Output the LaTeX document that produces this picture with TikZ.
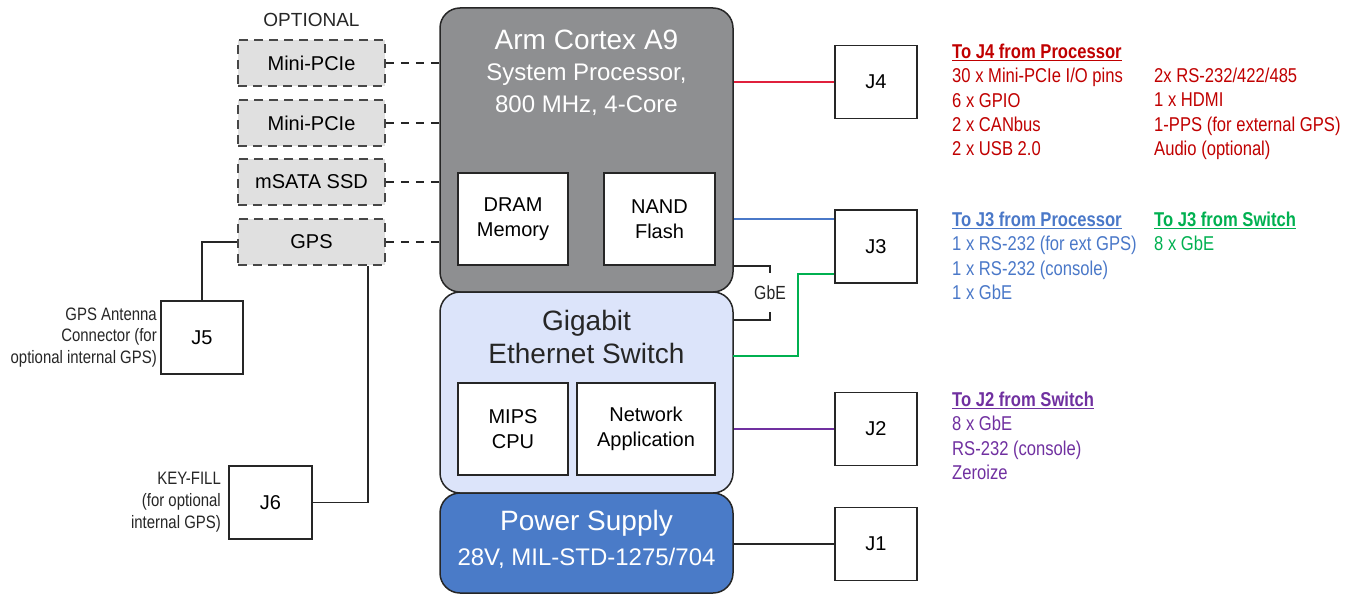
\documentclass[tikz,border=0pt]{standalone}
\usepackage{fontspec}
\setmainfont{Liberation Sans}
\newfontfamily\narrowfont[FakeStretch=0.83]{Liberation Sans}
\usetikzlibrary{calc}
\definecolor{ProcGray}{HTML}{8E8F91}
\definecolor{SwitchBlue}{HTML}{DCE4FA}
\definecolor{PowerBlue}{HTML}{4A7BC8}
\definecolor{OptGray}{HTML}{E0E0E0}
\definecolor{EdgeGray}{HTML}{262626}
\definecolor{J4Red}{HTML}{C00000}
\definecolor{J4Line}{HTML}{E0203C}
\definecolor{J3Blue}{HTML}{4A78C8}
\definecolor{J3Green}{HTML}{00B050}
\definecolor{J2Purple}{HTML}{7030A0}

\tikzset{
    block/.style={draw=EdgeGray, line width=1.5pt, rounded corners=20pt, inner sep=0pt, minimum width=293pt},
    inbox/.style={draw=EdgeGray, fill=white, line width=1.5pt, minimum width=110pt, minimum height=92pt, align=center, font=\fontsize{20}{25}\selectfont},
    optbox/.style={draw=EdgeGray!85, dash pattern=on 9pt off 6pt, fill=OptGray, line width=1.5pt, minimum width=147pt, minimum height=46pt, font=\fontsize{20}{24}\selectfont},
    jbox/.style={draw=EdgeGray, fill=white, line width=1.5pt, minimum width=82pt, minimum height=73pt, font=\fontsize{20}{24}\selectfont},
    note/.style={align=left, inner sep=0pt, anchor=north west, font=\narrowfont\fontsize{20}{24.3}\selectfont},
    sidenote/.style={align=right, inner sep=0pt, anchor=east, text=EdgeGray, font=\narrowfont\fontsize{18}{21.7}\selectfont},
    wire/.style={line width=1.8pt},
}

\begin{document}
\begin{tikzpicture}[x=1pt, y=-1pt]
    \useasboundingbox (0,0) rectangle (1351,594);

    % Main blocks
    \node[block, fill=ProcGray, minimum height=284pt] (proc) at (586.5,150) {};
    \node[block, fill=SwitchBlue, minimum height=201pt] (switch) at (586.5,392.5) {};
    \node[block, fill=PowerBlue, minimum height=100pt] (power) at (586.5,543) {};

    % Block titles
    \node[anchor=base, text=white, font=\fontsize{28}{30}\selectfont] (procA) at (586.5,50) {Arm Cortex A9};
    \node[anchor=base, text=white, font=\fontsize{24}{28}\selectfont] (procB) at (586.5,80.5) {System Processor,};
    \node[anchor=base, text=white, font=\fontsize{24}{28}\selectfont] (procC) at (586.5,112) {800 MHz, 4-Core};
    \node[anchor=base, text=EdgeGray, font=\fontsize{28}{30}\selectfont] (swA) at (586.5,330) {Gigabit};
    \node[anchor=base, text=EdgeGray, font=\fontsize{28}{30}\selectfont] (swB) at (586.5,363) {Ethernet Switch};
    \node[anchor=base, text=white, font=\fontsize{28}{30}\selectfont] (pwrA) at (586.5,530) {Power Supply};
    \node[anchor=base, text=white, font=\fontsize{24}{28}\selectfont] (pwrB) at (586.5,565) {28V, MIL-STD-1275/704};

    % Inner boxes
    \node[inbox] (dram) at (513,219) {DRAM\\Memory};
    \node[inbox, minimum width=111pt] (nand) at (659.5,219) {NAND\\Flash};
    \node[inbox] (mips) at (513,429) {MIPS\\CPU};
    \node[inbox, minimum width=138pt] (netapp) at (646,429) {Network\\Application};

    % Optional modules
    \node[font=\fontsize{19}{22}\selectfont, text=EdgeGray] (optional) at (311.5,20) {OPTIONAL};
    \node[optbox] (pcieA) at (311.5,63) {Mini-PCIe};
    \node[optbox] (pcieB) at (311.5,123) {Mini-PCIe};
    \node[optbox] (msata) at (311.5,182) {mSATA SSD};
    \node[optbox] (gps) at (311.5,242) {GPS};

    % Connectors
    \node[jbox] (J4) at (876,82) {J4};
    \node[jbox] (J3) at (876,246.5) {J3};
    \node[jbox] (J2) at (876,429) {J2};
    \node[jbox] (J1) at (876,544) {J1};
    \node[jbox] (J5) at (202,337.5) {J5};
    \node[jbox, minimum width=83pt] (J6) at (270.5,502.5) {J6};

    \node[sidenote] (j5note) at (157,337.5) {GPS Antenna\\Connector (for\\optional internal GPS)};
    \node[sidenote] (j6note) at (221,502) {KEY-FILL\\(for optional\\internal GPS)};

    % Dashed links to the processor
    \draw[wire, EdgeGray, dash pattern=on 8pt off 7pt] (pcieA.east) -- (proc.west |- pcieA);
    \draw[wire, EdgeGray, dash pattern=on 8pt off 7pt] (pcieB.east) -- (proc.west |- pcieB);
    \draw[wire, EdgeGray, dash pattern=on 8pt off 7pt] (msata.east) -- (proc.west |- msata);
    \draw[wire, EdgeGray, dash pattern=on 8pt off 7pt] (gps.east) -- (proc.west |- gps);

    % GPS to J5 and J6
    \coordinate (gpsdrop) at ($(gps.south east)+(-18,0)$);
    \draw[wire, EdgeGray] (gps.west) -| (J5.north);
    \draw[wire, EdgeGray] (gpsdrop) |- (J6.east);

    % Processor and switch to the J connectors
    \draw[wire, J4Line] (proc.east |- J4) -- (J4.west);
    \draw[wire, J3Blue] (proc.east |- nand) -- (J3.west |- nand);

    \node[inner sep=0pt, minimum height=39pt, text=EdgeGray, font=\narrowfont\fontsize{19}{20}\selectfont] (gbe) at (770,292.5) {GbE};
    \coordinate (swGbE) at (733,320);
    \draw[wire, EdgeGray] (proc.east |- dram.south) -| (gbe.north);
    \draw[wire, EdgeGray] (gbe.south) |- (swGbE);

    \coordinate (swGreen) at (733,356);
    \coordinate (j3Green) at ($(J3.south west)+(0,-10)$);
    \draw[wire, J3Green] (swGreen) -- ++(65,0) |- (j3Green);

    \draw[wire, J2Purple] (switch.east |- J2) -- (J2.west);
    \draw[wire, EdgeGray] (power.east |- J1) -- (J1.west);

    % Signal lists
    \node[note, text=J4Red] (j4list) at (952,44) {\underline{\textbf{To J4 from Processor}}\\30 x Mini-PCIe I/O pins\\6 x GPIO\\2 x CANbus\\2 x USB 2.0};
    \node[note, text=J4Red] (j4more) at (1154,68) {2x RS-232/422/485\\1 x HDMI\\1-PPS (for external GPS)\\Audio (optional)};
    \node[note, text=J3Blue] (j3list) at (952,212) {\underline{\textbf{To J3 from Processor}}\\1 x RS-232 (for ext GPS)\\1 x RS-232 (console)\\1 x GbE};
    \node[note, text=J3Green] (j3sw) at (1154,212) {\underline{\textbf{To J3 from Switch}}\\8 x GbE};
    \node[note, text=J2Purple] (j2list) at (952,392) {\underline{\textbf{To J2 from Switch}}\\8 x GbE\\RS-232 (console)\\Zeroize};
\end{tikzpicture}
\end{document}
